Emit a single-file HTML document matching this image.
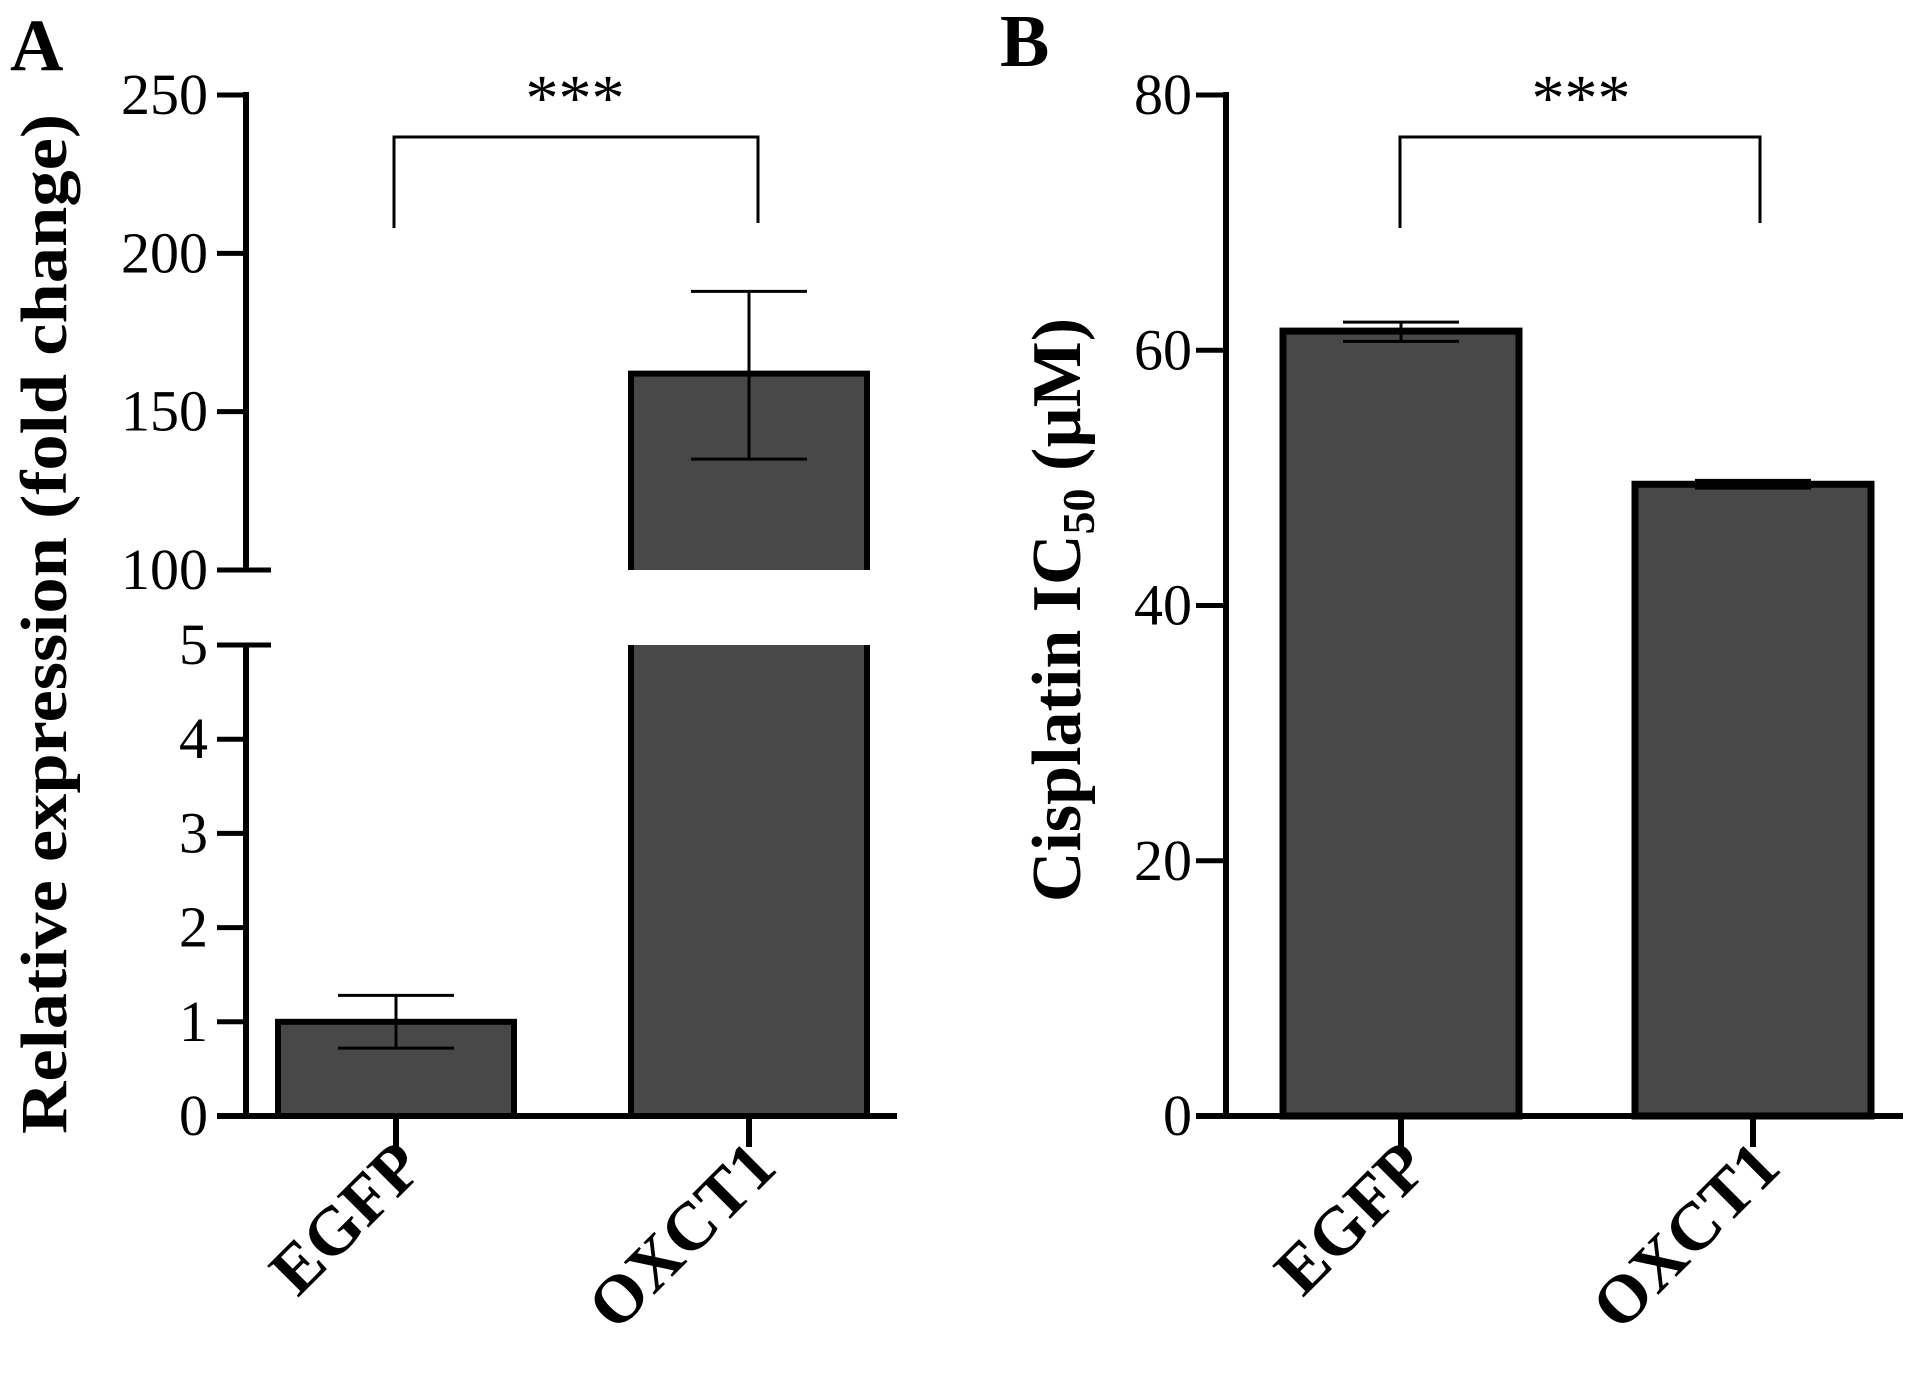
<!DOCTYPE html>
<html><head><meta charset="utf-8"><style>
html,body{margin:0;padding:0;background:#fff;}
svg{display:block;font-family:"Liberation Serif",serif;}
</style></head><body>
<svg id="chart" width="1913" height="1374" viewBox="0 0 1913 1374" xmlns="http://www.w3.org/2000/svg">
<rect width="1913" height="1374" fill="#fff"/>
<text x="10" y="70" font-size="74" font-weight="bold">A</text>
<text x="1000" y="66" font-size="74" font-weight="bold">B</text>
<g id="pa"></g>
<g id="pb"></g>
</svg>
<script>
const categories = ["EGFP", "OXCT1"];
const aValues = [1.0, 162];
const aErrLow = [0.72, 135];
const aErrHigh = [1.28, 188];
const aLowTicks = [0, 1, 2, 3, 4, 5];
const aHighTicks = [100, 150, 200, 250];
const bValues = [61.5, 49.5];
const bErrLow = [60.7, 49.2];
const bErrHigh = [62.2, 49.8];
const bTicks = [0, 20, 40, 60, 80];
const sigLabel = "***";

const NS = "http://www.w3.org/2000/svg";
function mk(parent, tag, attrs) {
  const e = document.createElementNS(NS, tag);
  for (const k in attrs) e.setAttribute(k, attrs[k]);
  parent.appendChild(e);
  return e;
}
function line(g, x1, y1, x2, y2, w) {
  return mk(g, "line", {x1, y1, x2, y2, stroke: "#000", "stroke-width": w});
}
const pa = document.getElementById("pa");
const pb = document.getElementById("pb");
const TICKFS = 58;

const aLow = v => 1116 - (v - 0) / 5 * (1116 - 645);
const aHigh = v => 570 - (v - 100) / 150 * (570 - 95);
const aY = v => v <= 5 ? aLow(v) : aHigh(Math.max(v, 100));
const aAxisX = 246;
const aCatX = [396, 749];
const barW = 236;

let l;
l = line(pa, aAxisX, 1119, aAxisX, 645, 6);


l = line(pa, aAxisX, 570, aAxisX, 92, 6);


aLowTicks.forEach(t => {
  const y = aLow(t);
  const tk = line(pa, 217, y, t === 5 ? 271 : aAxisX, y, 5);
  
  
  const tx = mk(pa, "text", {x: 208, y: y + 19, "font-size": TICKFS, "text-anchor": "end"});
  tx.textContent = t;
  
  
});
aHighTicks.forEach(t => {
  const y = aHigh(t);
  const tk = line(pa, 217, y, t === 100 ? 271 : aAxisX, y, 5);
  
  
  const tx = mk(pa, "text", {x: 208, y: y + 19, "font-size": TICKFS, "text-anchor": "end"});
  tx.textContent = t;
  
  
});
l = line(pa, 217, 1116, 897, 1116, 6);



categories.forEach((c, i) => {
  const cx = aCatX[i], v = aValues[i];
  const x0 = cx - barW / 2;
  if (v > 5) {
    const r1 = mk(pa, "path", {d: `M${x0},645 V1116 H${x0 + barW} V645`, fill: "#484848", stroke: "#000", "stroke-width": 6});
    
    
    const yt = aY(v);
    const r2 = mk(pa, "path", {d: `M${x0},570 V${yt} H${x0 + barW} V570`, fill: "#484848", stroke: "#000", "stroke-width": 6});
    
    
    mk(pa, "rect", {x: x0 - 4, y: 570, width: barW + 8, height: 75, fill: "#fff"});
  } else {
    const r = mk(pa, "rect", {x: x0, y: aY(v), width: barW, height: 1116 - aY(v), fill: "#484848", stroke: "#000", "stroke-width": 6});
    
    
  }
  const eg = mk(pa, "g", {});
  
  
  const yl = aY(aErrLow[i]), yh = aY(aErrHigh[i]);
  line(eg, cx, yl, cx, yh, 3);
  line(eg, cx - 58, yl, cx + 58, yl, 3);
  line(eg, cx - 58, yh, cx + 58, yh, 3);
  const t = line(pa, cx, 1116, cx, 1147, 6);
  
  
  const lb = mk(pa, "text", {x: 0, y: 0, "font-size": 68, "font-weight": "bold", "text-anchor": "end", transform: `translate(${cx + 30},${1170}) rotate(-45)`});
  lb.textContent = c;
  
  
});
let br = mk(pa, "path", {d: "M394,228 V137 H758 V223", fill: "none", stroke: "#000", "stroke-width": 3});


let st = mk(pa, "text", {x: 575, y: 120, "font-size": 66, "text-anchor": "middle"});
st.textContent = sigLabel;


let yt = mk(pa, "text", {x: 0, y: 0, "font-size": 66, "font-weight": "bold", "text-anchor": "middle", textLength: 1020, lengthAdjust: "spacingAndGlyphs", transform: "translate(66,624) rotate(-90)"});
yt.textContent = "Relative expression (fold change)";



const bY = v => 1116 - v / 80 * (1116 - 95);
const bAxisX = 1226;
const bCatX = [1401, 1753];
l = line(pb, bAxisX, 1119, bAxisX, 92, 6);


l = line(pb, 1196, 1116, 1903, 1116, 6);


bTicks.forEach(t => {
  const y = bY(t);
  const tk = line(pb, 1196, y, bAxisX, y, 5);
  
  
  const tx = mk(pb, "text", {x: 1192, y: y + 19, "font-size": TICKFS, "text-anchor": "end"});
  tx.textContent = t;
  
  
});
categories.forEach((c, i) => {
  const cx = bCatX[i], v = bValues[i];
  const r = mk(pb, "rect", {x: cx - barW / 2, y: bY(v), width: barW, height: 1116 - bY(v), fill: "#484848", stroke: "#000", "stroke-width": 7});
  
  
  const eg = mk(pb, "g", {});
  
  
  const yl = bY(bErrLow[i]), yh = bY(bErrHigh[i]);
  line(eg, cx, yl, cx, yh, 3);
  line(eg, cx - 58, yl, cx + 58, yl, 3);
  line(eg, cx - 58, yh, cx + 58, yh, 3);
  const t = line(pb, cx, 1116, cx, 1147, 6);
  
  
  const lb = mk(pb, "text", {x: 0, y: 0, "font-size": 68, "font-weight": "bold", "text-anchor": "end", transform: `translate(${cx + 30},${1170}) rotate(-45)`});
  lb.textContent = c;
  
  
});
br = mk(pb, "path", {d: "M1400,228 V137 H1760 V223", fill: "none", stroke: "#000", "stroke-width": 3});


st = mk(pb, "text", {x: 1581, y: 120, "font-size": 66, "text-anchor": "middle"});
st.textContent = sigLabel;


yt = mk(pb, "text", {x: 0, y: 0, "font-size": 70, "font-weight": "bold", "text-anchor": "middle", transform: "translate(1080,610) rotate(-90)"});
yt.innerHTML = 'Cisplatin IC<tspan font-size="46" dy="14">50</tspan><tspan dy="-14"> (µM)</tspan>';


</script>
</body></html>
